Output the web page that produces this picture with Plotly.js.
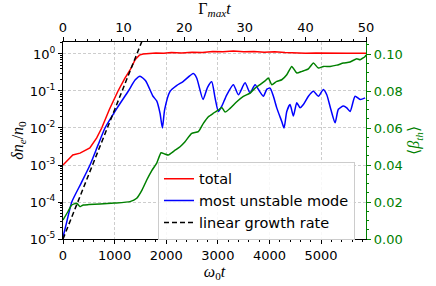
<!DOCTYPE html>
<html>
<head>
<meta charset="utf-8">
<script src="https://cdn.plot.ly/plotly-3.0.1.min.js"></script>
<style>html,body{margin:0;padding:0;background:#fff;}#chart{width:436px;height:286px;}</style>
</head>
<body>
<div id="chart"></div>
<script>
// ---- data ----
var redT = [0,100,190,330,520,653,750,900,1066,1200,1300,1400,1480,1550,1650,1800,1950,2100,2300,2500,2700,2900,3100,3300,3500,3700,3900,4100,4300,4500,4700,4900,5100,5300,5500,5700,5870];
var redV = [1.0e-3,1.41e-3,1.86e-3,2.09e-3,2.88e-3,5.4e-3,1.0e-2,3.2e-2,0.10,0.224,0.37,0.71,0.93,1.0,1.02,1.07,1.05,1.10,1.07,1.12,1.10,1.17,1.15,1.20,1.15,1.17,1.12,1.15,1.10,1.07,1.05,1.07,1.05,1.07,1.05,1.05,1.05];

var blueT = [0,80,170,350,523,680,814,1050,1266,1400,1492,1600,1744,1815,1880,1925,1970,2074,2200,2326,2526,2590,2713,2800,2881,2946,3010,3076,3173,3301,3398,3527,3624,3721,3818,3882,3950,4012,4076,4141,4238,4283,4335,4399,4463,4529,4593,4657,4754,4851,4948,5045,5110,5188,5271,5335,5432,5498,5562,5659,5756,5853];
var blueV = [1.12e-5,3.2e-5,1.0e-4,3.2e-4,1.0e-3,3.5e-3,1.0e-2,3.5e-2,0.10,0.20,0.25,0.19,0.072,0.054,0.025,0.010,0.032,0.098,0.14,0.18,0.295,0.224,0.059,0.126,0.178,0.065,0.028,0.039,0.079,0.148,0.079,0.166,0.089,0.148,0.093,0.072,0.112,0.12,0.072,0.035,0.015,0.010,0.028,0.043,0.021,0.048,0.035,0.043,0.072,0.098,0.072,0.11,0.079,0.032,0.0138,0.032,0.039,0.035,0.028,0.072,0.059,0.065];

var linT = [0,1600];
var linV = [1.0e-5,3.9];

var greenT = [0,100,169,266,329,393,500,717,1000,1298,1428,1522,1622,1720,1816,1900,1970,2041,2171,2268,2364,2494,2622,2719,2816,2913,3010,3076,3140,3236,3366,3494,3624,3721,3818,3915,3979,4045,4141,4238,4335,4432,4529,4626,4754,4851,4948,5045,5174,5304,5432,5562,5692,5756,5853,5870];
var greenV = [0.0103,0.0150,0.0184,0.0193,0.0175,0.0184,0.0186,0.0189,0.0194,0.0202,0.0220,0.0260,0.0319,0.0370,0.0410,0.0466,0.0460,0.0454,0.0480,0.0499,0.0526,0.0571,0.0580,0.0625,0.0661,0.0680,0.0697,0.0711,0.0686,0.0706,0.0742,0.0771,0.0789,0.0816,0.0835,0.0855,0.0870,0.0834,0.0852,0.0861,0.0888,0.0933,0.0897,0.0906,0.0920,0.0951,0.0924,0.0933,0.0933,0.0940,0.0951,0.0957,0.0975,0.0969,0.0987,0.0995];

var leftTickVals = [1e-5,1e-4,1e-3,1e-2,1e-1,1];
var leftTickText = ['10<sup>-5</sup>','10<sup>-4</sup>','10<sup>-3</sup>','10<sup>-2</sup>','10<sup>-1</sup>','10<sup>0</sup>'];

var ticksFont = {family:'DejaVu Sans', size:13, color:'#000'};
var titleFont = {family:'Liberation Serif', size:16, color:'#000'};

var minorLog = [];
for (var e=-5; e<=0; e++) { for (var d=2; d<=9; d++) { minorLog.push(d*Math.pow(10,e)); } }

var traces = [
  {x: redT, y: redV, name: 'total', mode: 'lines', line: {color:'#ff0000', width:1.5}, xaxis:'x', yaxis:'y'},
  {x: blueT, y: blueV, name: 'most unstable mode', mode: 'lines', line: {color:'#0000ff', width:1.5, shape:'spline', smoothing:0.6}, xaxis:'x', yaxis:'y'},
  {x: linT, y: linV, name: 'linear growth rate', mode: 'lines', line: {color:'#000000', width:1.5, dash:'5px,3px'}, xaxis:'x', yaxis:'y'},
  {x: greenT, y: greenV, name: 'beta', mode: 'lines', line: {color:'#008000', width:1.5, shape:'spline', smoothing:0.5}, xaxis:'x', yaxis:'y2', showlegend:false},
  {x: [0,50], y: [null,null], mode: 'lines', xaxis:'x2', yaxis:'y', showlegend:false, hoverinfo:'skip'}
];

var layout = {
  width: 436, height: 286,
  margin: {l:63, r:70, t:42, b:47, pad:0},
  paper_bgcolor: '#fff', plot_bgcolor: '#fff',
  showlegend: true,
  legend: {x:0.3135, y:0.392, xanchor:'left', yanchor:'top', bgcolor:'rgba(255,255,255,0.85)', bordercolor:'#cccccc', borderwidth:1, font:{family:'DejaVu Sans', size:14.5, color:'#000'}, tracegroupgap:0},
  xaxis: {
    range:[0,5870], showline:true, linecolor:'#000', linewidth:1, mirror:false,
    ticks:'outside', ticklen:4, tickcolor:'#000', dtick:1000, tick0:0,
    tickfont: ticksFont, zeroline:false,
    showgrid:true, gridcolor:'#c0c0c0', griddash:'3px,2px', gridwidth:0.8,
    minor:{dtick:200, ticks:'outside', ticklen:2, tickcolor:'#000', showgrid:false},
    title:{text:'<i>ω</i><sub>0</sub><i>t</i>', font:titleFont, standoff:2}
  },
  xaxis2: {
    overlaying:'x', side:'top', anchor:'y', range:[0,50], showline:true, linecolor:'#000', linewidth:1,
    ticks:'outside', ticklen:4, tickcolor:'#000', dtick:10, tick0:0, tickfont: ticksFont,
    showgrid:false, zeroline:false,
    minor:{dtick:2, ticks:'outside', ticklen:2, tickcolor:'#000', showgrid:false},
    title:{text:'Γ<sub><i>max</i></sub><i>t</i>', font:titleFont, standoff:3}
  },
  yaxis: {
    type:'log', range:[-5,0.324], showline:true, linecolor:'#000', linewidth:1,
    ticks:'outside', ticklen:4, tickcolor:'#000', tickmode:'array', tickvals:leftTickVals, ticktext:leftTickText,
    tickfont: ticksFont, showgrid:true, gridcolor:'#c0c0c0', griddash:'3px,2px', gridwidth:0.8, zeroline:false,
    minor:{tickmode:'array', tickvals:minorLog, ticks:'outside', ticklen:2, tickcolor:'#000', showgrid:false},
    title:{text:'<i>δn</i><sub><i>e</i></sub>/<i>n</i><sub>0</sub>', font:titleFont, standoff:2}
  },
  yaxis2: {
    overlaying:'y', side:'right', anchor:'x', range:[0,0.1065], showline:true, linecolor:'#008000', linewidth:1.2,
    ticks:'outside', ticklen:4, tickcolor:'#008000', dtick:0.02, tick0:0, tickformat:'.2f',
    tickfont:{family:'DejaVu Sans', size:13, color:'#008000'}, showgrid:false, zeroline:false,
    minor:{dtick:0.005, ticks:'outside', ticklen:2, tickcolor:'#008000', showgrid:false},
    title:{text:'⟨<i>β</i><sub><i>th</i></sub>⟩', font:{family:'Liberation Serif', size:16, color:'#008000'}, standoff:6}
  }
};

Plotly.newPlot('chart', traces, layout, {displayModeBar:false, staticPlot:true});
</script>
</body>
</html>
